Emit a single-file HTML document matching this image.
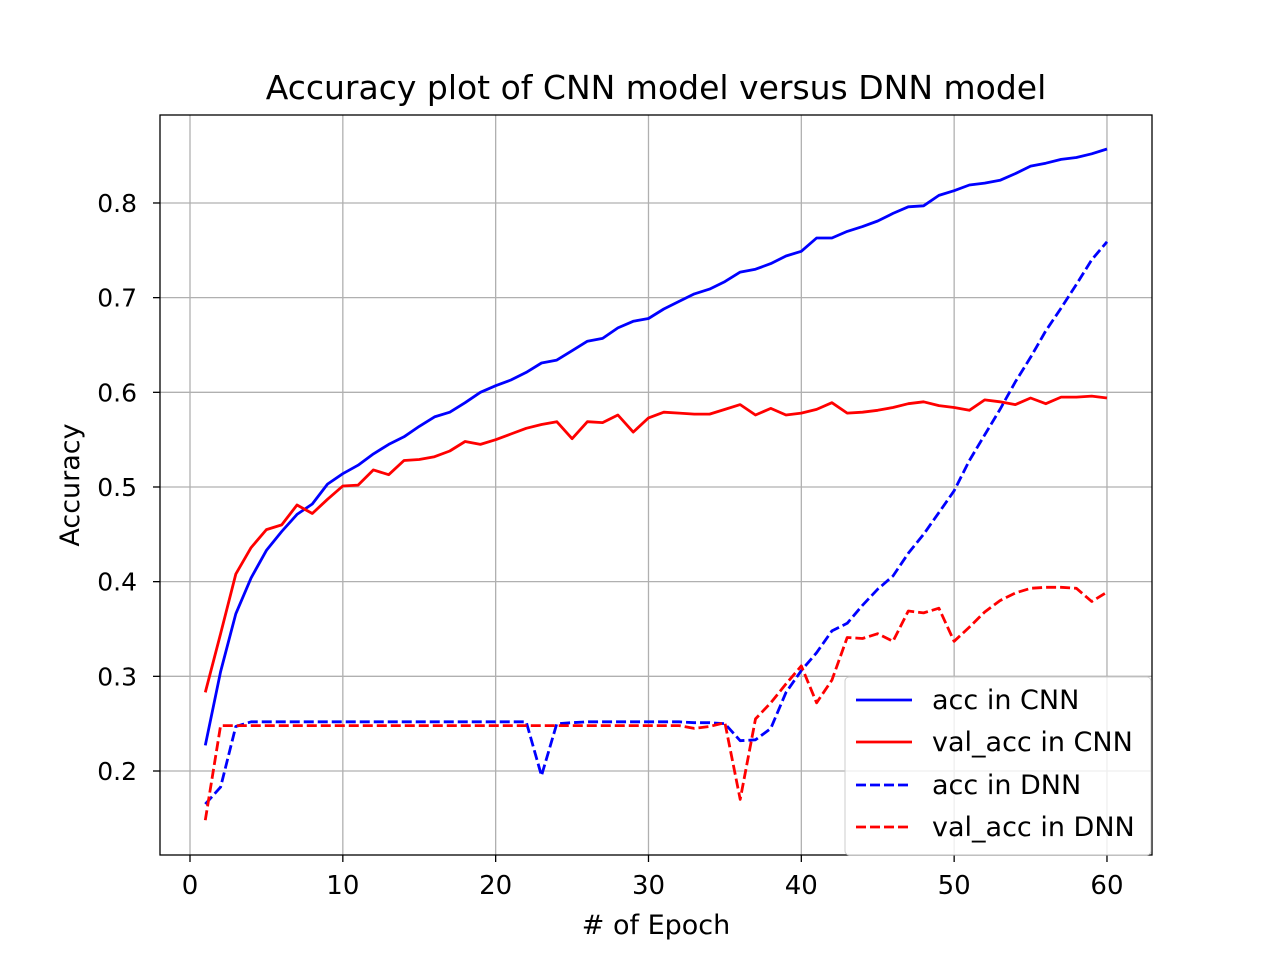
<!DOCTYPE html>
<html><head><meta charset="utf-8"><style>
body{margin:0;background:#fff;}
svg text{font-family:"DejaVu Sans","Liberation Sans",sans-serif;fill:#000;}
</style></head><body>
<svg id="chart" width="1280" height="960" xmlns="http://www.w3.org/2000/svg">
<rect width="1280" height="960" fill="#fff"/>
<g id="grid"></g>
<g id="series"></g>
<rect x="160" y="115" width="992" height="740" fill="none" stroke="#000" stroke-width="1.3"/>
<g id="ticks"></g>
<text x="656" y="99" font-size="33" text-anchor="middle">Accuracy plot of CNN model versus DNN model</text>
<text x="656" y="934" font-size="27" text-anchor="middle"># of Epoch</text>
<text transform="translate(79,485) rotate(-90)" font-size="27" text-anchor="middle">Accuracy</text>
<g>
<rect x="845" y="677" width="306" height="178" rx="4" fill="#fff" fill-opacity="0.8" stroke="#ccc"/>
<g><line x1="856" y1="700" x2="912" y2="700" stroke="#0000ff" stroke-width="2.8"/><text x="932" y="709" font-size="27">acc in CNN</text></g>
<g><line x1="856" y1="742" x2="912" y2="742" stroke="#ff0000" stroke-width="2.8"/><text x="932" y="751" font-size="27">val_acc in CNN</text></g>
<g><line x1="856" y1="785" x2="912" y2="785" stroke="#0000ff" stroke-width="2.8" stroke-dasharray="10,4"/><text x="932" y="794" font-size="27">acc in DNN</text></g>
<g><line x1="856" y1="827" x2="912" y2="827" stroke="#ff0000" stroke-width="2.8" stroke-dasharray="10,4"/><text x="932" y="836" font-size="27">val_acc in DNN</text></g>
</g>
</svg>
<script>
const xTicks=[0,10,20,30,40,50,60];
const yTicks=[0.2,0.3,0.4,0.5,0.6,0.7,0.8];
const accCNN=[0.227,0.305,0.366,0.404,0.433,0.453,0.471,0.482,0.503,0.514,0.523,0.535,0.545,0.553,0.564,0.574,0.579,0.589,0.600,0.607,0.613,0.621,0.631,0.634,0.644,0.654,0.657,0.668,0.675,0.678,0.688,0.696,0.704,0.709,0.717,0.727,0.730,0.736,0.744,0.749,0.763,0.763,0.770,0.775,0.781,0.789,0.796,0.797,0.808,0.813,0.819,0.821,0.824,0.831,0.839,0.842,0.846,0.848,0.852,0.857];
const valCNN=[0.283,0.345,0.408,0.436,0.455,0.460,0.481,0.472,0.487,0.501,0.502,0.518,0.513,0.528,0.529,0.532,0.538,0.548,0.545,0.550,0.556,0.562,0.566,0.569,0.551,0.569,0.568,0.576,0.558,0.573,0.579,0.578,0.577,0.577,0.582,0.587,0.576,0.583,0.576,0.578,0.582,0.589,0.578,0.579,0.581,0.584,0.588,0.590,0.586,0.584,0.581,0.592,0.590,0.587,0.594,0.588,0.595,0.595,0.596,0.594];
const accDNN=[0.165,0.183,0.247,0.252,0.252,0.252,0.252,0.252,0.252,0.252,0.252,0.252,0.252,0.252,0.252,0.252,0.252,0.252,0.252,0.252,0.252,0.252,0.195,0.250,0.251,0.252,0.252,0.252,0.252,0.252,0.252,0.252,0.251,0.251,0.250,0.232,0.233,0.245,0.283,0.306,0.325,0.348,0.356,0.375,0.392,0.406,0.430,0.450,0.473,0.496,0.528,0.555,0.582,0.611,0.637,0.665,0.689,0.714,0.740,0.759];
const valDNN=[0.148,0.248,0.248,0.248,0.248,0.248,0.248,0.248,0.248,0.248,0.248,0.248,0.248,0.248,0.248,0.248,0.248,0.248,0.248,0.248,0.248,0.248,0.248,0.248,0.248,0.248,0.248,0.248,0.248,0.248,0.248,0.248,0.245,0.247,0.251,0.170,0.255,0.272,0.292,0.311,0.272,0.296,0.341,0.340,0.345,0.337,0.369,0.367,0.372,0.337,0.352,0.368,0.380,0.388,0.393,0.394,0.394,0.393,0.379,0.389];
const NS='http://www.w3.org/2000/svg';
function xs(v){return 190+v*15.283;}
function ys(v){return 771-(v-0.2)*946.7;}
function mk(tag,attrs,parent){const e=document.createElementNS(NS,tag);for(const k in attrs)e.setAttribute(k,attrs[k]);parent.appendChild(e);return e;}
const grid=document.getElementById('grid'),ticks=document.getElementById('ticks'),ser=document.getElementById('series');
xTicks.forEach(t=>{const x=xs(t);
 const g=mk('line',{x1:x,x2:x,y1:115,y2:855,stroke:'#b0b0b0','stroke-width':1.3},grid);
 
 
 mk('line',{x1:x,x2:x,y1:855,y2:862,stroke:'#000','stroke-width':1.3},ticks);
 const tx=mk('text',{x:x,y:894,'font-size':26,'text-anchor':'middle'},ticks);tx.textContent=t;
 
 
});
yTicks.forEach(t=>{const y=ys(t);
 const g=mk('line',{x1:160,x2:1152,y1:y,y2:y,stroke:'#b0b0b0','stroke-width':1.3},grid);
 
 
 mk('line',{x1:153,x2:160,y1:y,y2:y,stroke:'#000','stroke-width':1.3},ticks);
 const tx=mk('text',{x:137,y:y+9,'font-size':25,'text-anchor':'end'},ticks);tx.textContent=t.toFixed(1);
 
 
});
function line(data,color,dash,name){
 const d=data.map((v,i)=>(i?'L':'M')+xs(i+1).toFixed(1)+','+ys(v).toFixed(1)).join(' ');
 const p=mk('path',{d:d,fill:'none',stroke:color,'stroke-width':2.8,'stroke-linejoin':'round'},ser);
 if(dash)p.setAttribute('stroke-dasharray','10,4');
 
 
}
line(accCNN,'#0000ff',false,'acc-cnn-line');
line(valCNN,'#ff0000',false,'val-acc-cnn-line');
line(accDNN,'#0000ff',true,'acc-dnn-line');
line(valDNN,'#ff0000',true,'val-acc-dnn-line');
</script>
</body></html>
